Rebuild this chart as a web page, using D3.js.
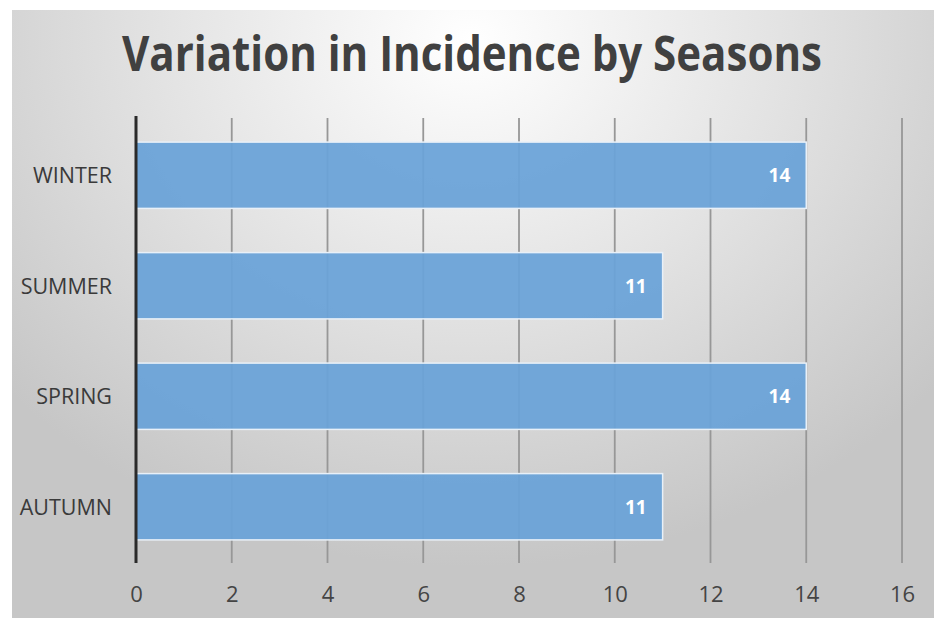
<!DOCTYPE html>
<html><head><meta charset="utf-8">
<script src="https://cdn.jsdelivr.net/npm/d3@7"></script>
<style>html,body{margin:0;padding:0;background:#fff;}svg{display:block;}</style>
</head><body>
<script>
const title = "Variation in Incidence by Seasons";
const categories = ["WINTER", "SUMMER", "SPRING", "AUTUMN"];
const values = [14, 11, 14, 11];
const xTicks = [0, 2, 4, 6, 8, 10, 12, 14, 16];

const W = 934, H = 618;
const svg = d3.select("body").append("svg").attr("width", W).attr("height", H);
const defs = svg.append("defs");
const grad = defs.append("radialGradient").attr("id", "bg")
  .attr("gradientUnits", "userSpaceOnUse")
  .attr("cx", 470).attr("cy", 40).attr("r", 620)
  .attr("gradientTransform", "translate(470,40) scale(1,0.85) translate(-470,-40)");
grad.append("stop").attr("offset", "0").attr("stop-color", "#ffffff");
grad.append("stop").attr("offset", "0.5").attr("stop-color", "#e3e3e3");
grad.append("stop").attr("offset", "1").attr("stop-color", "#c6c6c6");
svg.append("rect").attr("x", 12).attr("y", 10).attr("width", W - 12).attr("height", H - 10).attr("fill", "url(#bg)");

const x = d3.scaleLinear().domain([0, 16]).range([136, 902]);
const y = d3.scaleBand().domain(categories).range([120, 562]).paddingInner(0.4).paddingOuter(0.2);

svg.append("text").attr("x", 472).attr("y", 71).attr("text-anchor", "middle")
  .attr("font-family", "Open Sans").attr("font-weight", 700).attr("font-size", 48)
  .attr("fill", "#404040").attr("textLength", 700).attr("lengthAdjust", "spacingAndGlyphs").text(title);

// gridlines
const grid = svg.append("g");
grid.selectAll("line").data(xTicks.slice(1)).join("line")
  .attr("x1", d => x(d)).attr("x2", d => x(d)).attr("y1", 118).attr("y2", 563)
  .attr("stroke", "#979797").attr("stroke-width", 1.8);

// bars
svg.append("g").selectAll("rect").data(categories).join("rect")
  .attr("x", x(0)).attr("y", d => y(d))
  .attr("width", (d, i) => x(values[i]) - x(0)).attr("height", y.bandwidth())
  .attr("fill", "#6aa3d8").attr("fill-opacity", 0.94)
  .attr("stroke", "#e8f0f8").attr("stroke-width", 1.5);

// value labels
svg.append("g").selectAll("text").data(categories).join("text")
  .attr("x", (d, i) => x(values[i]) - 16).attr("y", d => y(d) + y.bandwidth() / 2 + 7)
  .attr("text-anchor", "end").attr("font-family", "Open Sans").attr("font-weight", 700)
  .attr("font-size", 19).attr("fill", "#ffffff").text((d, i) => values[i]);

// y axis line
svg.append("line").attr("x1", x(0)).attr("x2", x(0)).attr("y1", 116).attr("y2", 563)
  .attr("stroke", "#2a2a2a").attr("stroke-width", 3);

// category labels
svg.append("g").selectAll("text").data(categories).join("text")
  .attr("x", 112).attr("y", d => y(d) + y.bandwidth() / 2 + 8)
  .attr("text-anchor", "end").attr("font-family", "Open Sans").attr("font-size", 21.5)
  .attr("fill", "#3a3a3a").text(d => d);

// x tick labels
const xAxis = svg.append("g").attr("transform", "translate(0,563)")
  .call(d3.axisBottom(x).tickValues(xTicks).tickSize(0).tickPadding(22));
xAxis.select(".domain").remove();
xAxis.selectAll("text").attr("font-family", "Open Sans").attr("font-size", 22).attr("fill", "#444").attr("dy", "0.75em");
</script>
</body></html>
